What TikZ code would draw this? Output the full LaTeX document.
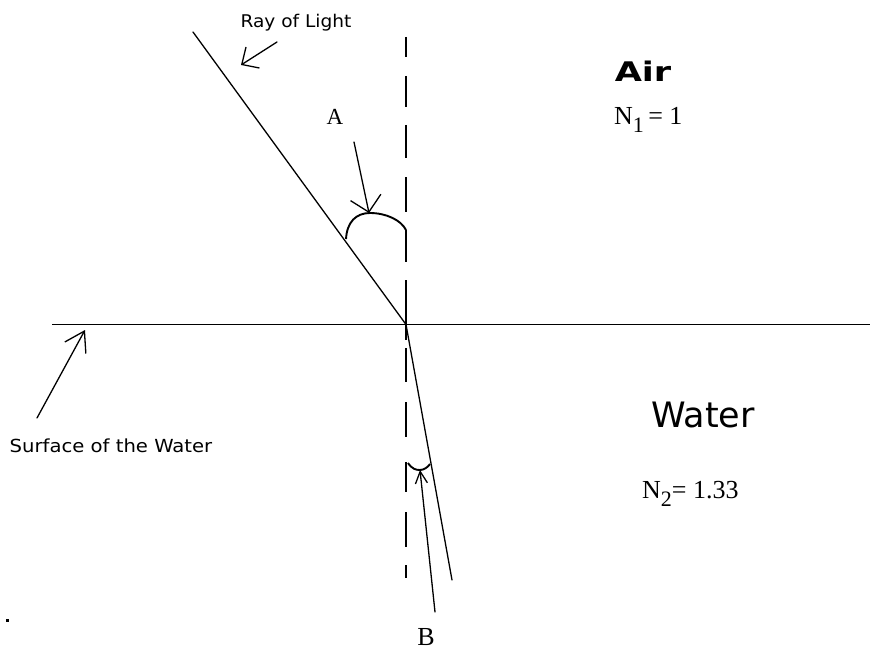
\documentclass[tikz,border=0pt]{standalone}
\usepackage{fontspec}
\setmainfont{Liberation Serif}
\newfontfamily\comicfont{DejaVu Sans}
\usetikzlibrary{arrows.meta}
\newcommand{\lowsub}[1]{\raisebox{-8pt}{\fontsize{22pt}{22pt}\selectfont #1}}
\begin{document}
\begin{tikzpicture}[x=1pt,y=-1pt,
  thinline/.style={line width=1.3pt, line cap=round},
  thickline/.style={line width=1.9pt},
  handlabel/.style={inner sep=0pt, anchor=base, font=\comicfont},
  seriflabel/.style={inner sep=0pt, anchor=base}]
\useasboundingbox (0,0) rectangle (870,650);

% key points
\coordinate (O) at (406,324.5);
\coordinate (rayS) at (193,32);
\coordinate (refE) at (452,580);
\coordinate (surfL) at (52,324.5);
\coordinate (surfR) at (870,324.5);
\coordinate (normT) at (406,37);
\coordinate (normB) at (406,580);

% water surface
\draw[thickline] (surfL) -- (surfR);
% normal (dashed)
\draw[thickline, dash pattern=on 20pt off 19pt on 31pt off 18pt on 33pt off 19pt on 35pt off 18pt on 32pt off 18pt on 60pt off 8pt on 34pt off 20pt on 35pt off 25pt on 30pt off 20pt on 35pt off 18pt on 13pt off 10pt] (normT) -- (normB);
% incident and refracted rays
\draw[thinline] (rayS) -- (O);
\draw[thinline] (O) -- (refE);

% angle A
\coordinate (arcAS) at (346,239);
\coordinate (arcAT) at (370,213);
\coordinate (arcAE) at (406,230);
\draw[thickline] (arcAS) .. controls (347,222) and (356,213) .. (arcAT) .. controls (386,213) and (401,220) .. (arcAE);

% angle B
\coordinate (arcBS) at (408,463);
\coordinate (arcBT) at (420,470);
\coordinate (arcBE) at (430,464);
\draw[thickline] (arcBS) .. controls (412,469) and (416,470) .. (arcBT) .. controls (424,470) and (428,467) .. (arcBE);

% labels
\node[handlabel, font=\comicfont\fontsize{17.5pt}{20pt}\selectfont] (raylbl) at (296,28) {\scalebox{1.06}[1]{Ray of Light}};
\node[handlabel, font=\comicfont\fontsize{18pt}{20pt}\selectfont] (surflbl) at (111,452) {\scalebox{1.09}[1]{Surface of the Water}};
\node[handlabel, font=\comicfont\bfseries\fontsize{27pt}{30pt}\selectfont] (airlbl) at (643,82) {\scalebox{1.3}[1]{Air}};
\node[handlabel, font=\comicfont\fontsize{35pt}{38pt}\selectfont] (waterlbl) at (703,427) {Water};
\node[seriflabel, anchor=base west, font=\fontsize{26pt}{28pt}\selectfont] (n1lbl) at (614,125) {N\lowsub{1}\,= 1};
\node[seriflabel, anchor=base west, font=\fontsize{26pt}{28pt}\selectfont] (n2lbl) at (642,498) {N\lowsub{2}= 1.33};
\node[seriflabel, font=\fontsize{23pt}{25pt}\selectfont] (Albl) at (335,125) {A};
\node[seriflabel, font=\fontsize{26pt}{28pt}\selectfont] (Blbl) at (426,645) {B};

% pointer arrows
\coordinate (rayAS) at (277,42);
\coordinate (rayAT) at (241,65);
\draw[thinline, -{Straight Barb[length=13pt,width=25pt]}] (rayAS) -- (rayAT);

\coordinate (AAS) at (354,142);
\coordinate (AAT) at (369,213);
\draw[thinline, -{Straight Barb[length=15pt,width=31pt]}] (AAS) -- (AAT);

\coordinate (surfAS) at (37,418);
\coordinate (surfAT) at (85,330);
\draw[thinline, -{Straight Barb[length=19pt,width=24pt]}] (surfAS) -- (surfAT);

\coordinate (BAS) at (435,612);
\coordinate (BAT) at (420,470);
\draw[thinline, -{Straight Barb[length=12pt,width=12pt]}] (BAS) -- (BAT);

% stray dot
\fill (6,619) rectangle (8.5,621.5);
\end{tikzpicture}
\end{document}
